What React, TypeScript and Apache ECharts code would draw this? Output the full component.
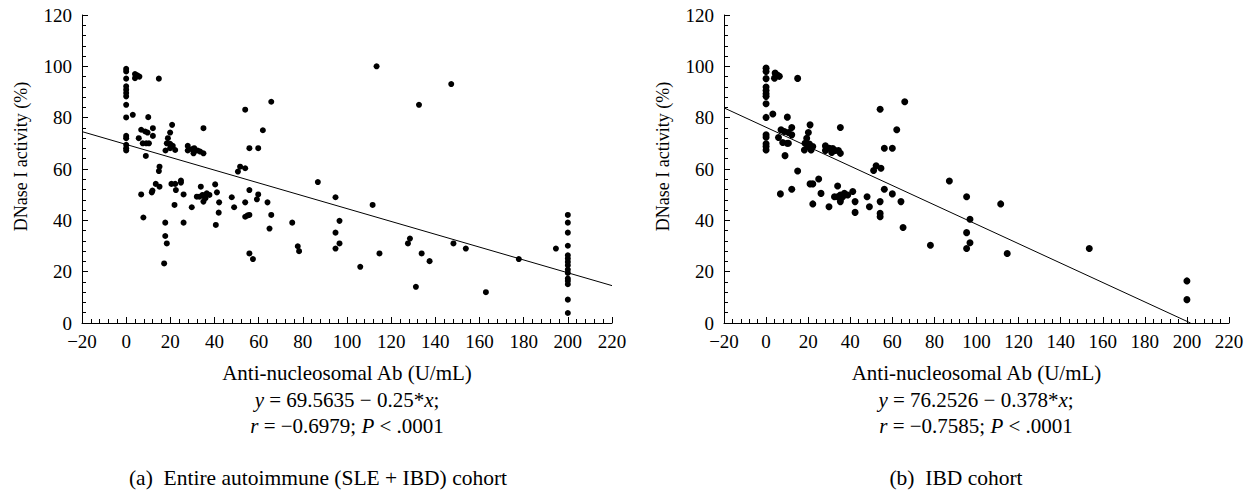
import React, { useEffect, useRef } from "react";
import * as echarts from "echarts";

// ---------- Data ----------
const xTickMin = -20;
const xTickMax = 220;
const xTickStep = 20;
const yTickMin = 0;
const yTickMax = 120;
const yTickStep = 20;

// (a) Entire autoimmune (SLE + IBD) cohort
const entireX = [
  0, 0, 0, 0, 0, 0, 0, 0, 0, 0, 0, 0, 0, 0,
  3, 4, 5, 6, 4, 14.8, 10, 6.8, 8.6, 9.7, 12.1, 12.1, 5.7, 7.5, 9.1, 10.3, 8.9, 6.8, 7.8,
  15.1, 14.8, 13.4, 15.1, 11.9, 11.6,
  20.8, 19.9, 18.9, 18.4, 19.9, 21.1, 22.2, 19.9, 17.8,
  20.5, 22.2, 22.5, 21.9, 17.7, 17.7, 18.4, 17.2, 24.8, 24.8, 26, 26, 29.7,
  27.9, 27.9, 29.7, 30.8, 31.5, 32.4, 33.5, 30.5, 35, 35, 33.8,
  32, 33.2, 34.6, 35.5, 35, 36.5, 37.7, 35.9,
  40.3, 41.1, 42.1, 41.9, 40.6, 47.8, 48.9, 50.6, 51.6, 53.9, 53.9,
  55.8, 59.8, 61.9, 65.7, 55.8, 53.9, 53.9, 55, 55.8, 59.8, 59.2, 64, 65.7, 64.9,
  55.8, 57.4, 75.2, 77.7, 78.3, 86.8, 94.8, 94.8, 96.6, 94.8, 96.6, 106,
  113.4, 147.2, 132.6, 111.6, 114.7, 127.6, 128.5, 133.8, 137.4, 131.2,
  148.2, 153.8, 162.9, 177.8, 194.6,
  200, 200, 200, 200, 200, 200, 200, 200, 200, 200, 200, 200, 200, 200, 200,
];
const entireY = [
  99, 98, 95.2, 92.2, 90.9, 89.6, 88.3, 85, 80.1, 72.9, 72, 69.4, 68.1, 67.2,
  81.1, 97, 96.5, 96, 95.4, 95.2, 80.2, 75.3, 74.6, 74.2, 75.9, 72.9, 72, 70, 70, 70, 65.1, 50.1, 41.1,
  60.9, 59.2, 54.2, 53.1, 51.6, 50.9,
  77.2, 74.2, 72, 70, 69.8, 69, 67.4, 68.1, 67.2,
  54.2, 54.2, 51.8, 46, 39.1, 33.9, 31, 23.2, 55.5, 54.7, 50.1, 39.1, 45.1,
  69, 67.2, 67.7, 68.1, 67.2, 67.2, 66.8, 66.1, 66.1, 75.9, 53.1,
  49.2, 49.2, 49.9, 49.2, 47.3, 50.5, 49.9, 48.6,
  54, 50.9, 47, 43, 38.2, 49, 45.1, 59, 60.9, 60.3, 83.1,
  68.1, 68.1, 75.1, 86.2, 51.8, 47, 41.4, 41.9, 42.1, 50.1, 48.2, 47, 42.1, 36.8,
  27.1, 24.9, 39.1, 29.9, 28, 54.9, 49, 35.2, 39.8, 29, 31, 21.9,
  100, 93.1, 85, 46, 27.1, 31, 32.9, 27.1, 24.1, 14.1,
  31, 29, 12, 24.9, 29,
  42.1, 39.1, 35.2, 30.1, 26.4, 25.1, 23.8, 22.5, 20.8, 19.5, 17.3, 16.4, 15.1, 9.1, 3.9,
];
const entireIntercept = 69.5635;
const entireSlope = -0.25;

// (b) IBD cohort
const ibdX = [
  0, 0, 0, 0, 0, 0, 0, 0, 0, 0, 0, 0, 0, 0,
  3.2, 4.3, 5.5, 6.3, 4, 15, 10.1, 7.1, 8.7, 10.6, 12.2, 12.2, 5.9, 7.9, 10, 10.6, 9, 6.8, 12.2, 15,
  20.9, 20.1, 19.3, 18.5, 20.6, 22.2, 19.8, 18.2, 21.4, 20.9, 22.2, 22.2, 25, 26.1, 29.9,
  28.2, 28.2, 30.1, 31.7, 32.9, 34.4, 35.3, 31.2, 35.3, 34,
  32.5, 34, 35.3, 36.4, 35.3, 37.2, 38.8, 35.6,
  41.2, 42.3, 42.3, 48, 49.1, 51.1, 52.3, 54.6, 54.2,
  56.2, 60, 62.1, 65.9, 56.2, 54.2, 54.2, 54.2, 60, 64.1, 65.1,
  78.1, 87.1, 95.3, 96.9, 95.3, 95.3, 96.9, 111.5, 114.6, 153.6, 200, 200,
];
const ibdY = [
  99.3, 98, 95.2, 91.9, 90.6, 89.3, 88.3, 85.4, 80.1, 73.3, 72.4, 69.8, 68.8, 67.4,
  81.4, 97.4, 96.5, 96.1, 95.4, 95.3, 80.2, 75.3, 74.6, 74.2, 76.2, 73.3, 72.3, 70.3, 70, 70, 65.2, 50.3, 52.1, 59.2,
  77.2, 74.2, 72, 70, 69.7, 68.8, 68.8, 67.4, 67.4, 54.2, 54.2, 46.4, 56.1, 50.5, 45.3,
  69, 67.2, 68.1, 68, 67.2, 67.2, 66.1, 66.4, 76.2, 53.4,
  49.2, 49.2, 49.9, 49.2, 47.3, 50.5, 49.9, 48.6,
  51.2, 47.3, 43.1, 49.2, 45.3, 59.4, 61.3, 60.3, 83.3,
  68.1, 68.1, 75.3, 86.2, 52.1, 47.3, 42.7, 41.4, 50.3, 47.3, 37.2,
  30.3, 55.3, 49.2, 40.4, 35.2, 29, 31.3, 46.4, 27.1, 29, 16.4, 9.1,
];
const ibdIntercept = 76.2526;
const ibdSlope = -0.378;

const xAxisTitle = "Anti-nucleosomal Ab (U/mL)";
const yAxisTitle = "DNase I activity (%)";
const captionA = "(a)  Entire autoimmune (SLE + IBD) cohort";
const captionB = "(b)  IBD cohort";

// ---------- Helpers ----------
const FONT = "'Liberation Serif', 'Times New Roman', 'DejaVu Serif', serif";
const pairs = (xs: number[], ys: number[]) => xs.map((x, i) => [x, ys[i]]);
const fitLine = (a: number, b: number) => {
  const x0 = xTickMin;
  let x1 = xTickMax;
  if (a + b * x1 < 0) x1 = -a / b;
  return [
    [x0, a + b * x0],
    [x1, a + b * x1],
  ];
};
const minus = (v: number) => String(v).replace("-", "\u2212");

const makeXAxis = (gridIndex: number) => ({
  type: "value",
  gridIndex,
  min: xTickMin,
  max: xTickMax,
  interval: xTickStep,
  name: xAxisTitle,
  nameLocation: "middle",
  nameGap: 39,
  nameTextStyle: { fontFamily: FONT, fontSize: 21, color: "#000" },
  axisLine: { show: true, onZero: false, lineStyle: { color: "#000", width: 1 } },
  axisTick: { show: true, inside: true, length: 6, lineStyle: { color: "#000", width: 1 } },
  minorTick: { show: true, splitNumber: 5, length: 4, lineStyle: { color: "#000", width: 1 } },
  axisLabel: { fontFamily: FONT, fontSize: 19, color: "#000", margin: 9, formatter: minus },
  splitLine: { show: false },
  minorSplitLine: { show: false },
});

const makeYAxis = (gridIndex: number) => ({
  type: "value",
  gridIndex,
  min: yTickMin,
  max: yTickMax,
  interval: yTickStep,
  name: yAxisTitle,
  nameLocation: "middle",
  nameGap: 52,
  nameTextStyle: { fontFamily: FONT, fontSize: 18, color: "#000", padding: [0, 0, 0, 25] },
  axisLine: { show: true, onZero: false, lineStyle: { color: "#000", width: 1 } },
  axisTick: { show: true, inside: true, length: 6, lineStyle: { color: "#000", width: 1 } },
  minorTick: { show: true, splitNumber: 5, length: 4, lineStyle: { color: "#000", width: 1 } },
  axisLabel: { fontFamily: FONT, fontSize: 19, color: "#000", margin: 10 },
  splitLine: { show: false },
  minorSplitLine: { show: false },
});

const richText = (x: number, y: number, text: string, size = 21) => ({
  type: "text",
  x,
  y,
  silent: true,
  style: {
    text,
    fontFamily: FONT,
    fontSize: size,
    fill: "#000",
    textAlign: "center",
    textVerticalAlign: "middle",
    rich: {
      i: { fontFamily: FONT, fontSize: size, fontStyle: "italic", fill: "#000" },
    },
  },
});

export default function App() {
  const ref = useRef<HTMLDivElement>(null);

  useEffect(() => {
    if (!ref.current) return;
    const chart = echarts.init(ref.current, null, { renderer: "svg" });
    chart.setOption({
      animation: false,
      backgroundColor: "#fff",
      textStyle: { fontFamily: FONT },
      grid: [
        { left: 82, top: 15, width: 530, height: 308 },
        { left: 724, top: 15, width: 505, height: 308 },
      ],
      xAxis: [makeXAxis(0), makeXAxis(1)],
      yAxis: [makeYAxis(0), makeYAxis(1)],
      series: [
        {
          type: "scatter",
          xAxisIndex: 0,
          yAxisIndex: 0,
          symbol: "circle",
          symbolSize: 6,
          itemStyle: { color: "#000", opacity: 1 },
          data: pairs(entireX, entireY),
        },
        {
          type: "line",
          xAxisIndex: 0,
          yAxisIndex: 0,
          symbol: "none",
          lineStyle: { color: "#000", width: 1 },
          data: fitLine(entireIntercept, entireSlope),
        },
        {
          type: "scatter",
          xAxisIndex: 1,
          yAxisIndex: 1,
          symbol: "circle",
          symbolSize: 7,
          itemStyle: { color: "#000", opacity: 1 },
          data: pairs(ibdX, ibdY),
        },
        {
          type: "line",
          xAxisIndex: 1,
          yAxisIndex: 1,
          symbol: "none",
          lineStyle: { color: "#000", width: 1 },
          data: fitLine(ibdIntercept, ibdSlope),
        },
      ],
      graphic: [
        richText(347, 400, `{i|y} = ${entireIntercept} \u2212 ${-entireSlope}*{i|x};`),
        richText(347, 426, "{i|r} = \u22120.6979; {i|P} < .0001"),
        richText(318, 478, captionA, 21.5),
        richText(976, 400, `{i|y} = ${ibdIntercept} \u2212 ${-ibdSlope}*{i|x};`),
        richText(976, 426, "{i|r} = \u22120.7585; {i|P} < .0001"),
        richText(956, 478, captionB, 21.5),
      ],
    });
    return () => chart.dispose();
  }, []);

  return (
    <div
      ref={ref}
      style={{ position: "fixed", left: 0, top: 0, width: 1253, height: 490, background: "#fff" }}
    />
  );
}
